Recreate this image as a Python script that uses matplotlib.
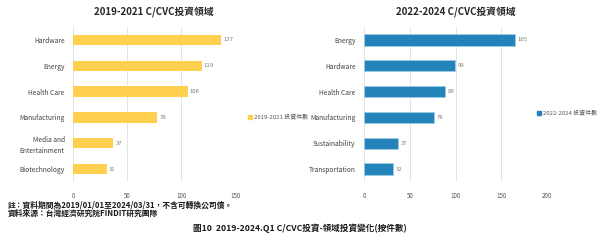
import matplotlib
matplotlib.use("Agg")
import matplotlib.pyplot as plt
from matplotlib.patches import Patch

plt.rcParams['font.family'] = ['Noto Sans CJK TC', 'DejaVu Sans']

left_title = "2019-2021 C/CVC投資領域"
left_cats = ["Hardware", "Energy", "Health Care", "Manufacturing", "Media and\nEntertainment", "Biotechnology"]
left_vals = [137, 119, 106, 78, 37, 31]
left_legend = "2019-2021 投資件數"
left_ticks = [0, 50, 100, 150]

right_title = "2022-2024 C/CVC投資領域"
right_cats = ["Energy", "Hardware", "Health Care", "Manufacturing", "Sustainability", "Transportation"]
right_vals = [165, 99, 89, 76, 37, 32]
right_legend = "2022-2024 投資件數"
right_ticks = [0, 50, 100, 150, 200]

note1 = "註：資料期間為2019/01/01至2024/03/31，不含可轉換公司債。"
note2 = "資料來源：台灣經濟研究院FINDIT研究團隊"
caption = "圖10  2019-2024.Q1 C/CVC投資-領域投資變化(按件數)"

yellow = "#FFD04F"
blue = "#2484B9"

fig = plt.figure(figsize=(6, 2.4), dpi=100)
fig.patch.set_facecolor("white")


def panel(rect, cats, vals, ticks, color, title, legend_label, legend_xy, edge):
    ax = fig.add_axes(rect)
    y = list(range(len(cats)))
    ax.barh(y, vals, height=0.4 if not edge else 0.44, color=color,
            edgecolor="#9CCBE6" if edge else color, linewidth=0.6 if edge else 0, zorder=3)
    ax.set_ylim(len(cats) - 0.5, -0.5)
    ax.set_xlim(ticks[0], ticks[-1])
    ax.set_xticks(ticks)
    ax.set_xticklabels([str(t) for t in ticks], fontsize=4.5, color="#595959")
    ax.set_yticks(y)
    ax.set_yticklabels(cats, fontsize=4.8, color="#404040", linespacing=1.5)
    ax.tick_params(length=0, pad=6)
    ax.tick_params(axis='x', pad=7)
    for s in ax.spines.values():
        s.set_visible(False)
    ax.grid(axis='x', color="#E3E3E3", linewidth=0.7, zorder=0)
    ax.set_axisbelow(True)
    for yi, v in zip(y, vals):
        ax.text(v + ticks[-1] * 0.015, yi, str(v), fontsize=4.3, color="#7F7F7F",
                va="center", ha="left")
    ax.set_title(title, fontsize=7.0, fontweight="bold", color="#262626", pad=8)
    fig.legend(handles=[Patch(color=color)], labels=[legend_label],
               loc="center left", bbox_to_anchor=legend_xy, frameon=False,
               fontsize=4.3, handlelength=0.6, handleheight=0.6, handletextpad=0.4,
               labelcolor="#595959")
    return ax


panel([0.1217, 0.2417, 0.27, 0.6458], left_cats, left_vals, left_ticks, yellow,
      left_title, left_legend, (0.405, 0.512), False)
panel([0.6067, 0.2417, 0.305, 0.6458], right_cats, right_vals, right_ticks, blue,
      right_title, right_legend, (0.886, 0.528), True)

fig.text(0.013, 0.145, note1, fontsize=5.6, fontweight="bold", color="#1a1a1a", va="center")
fig.text(0.013, 0.11, note2, fontsize=5.6, fontweight="bold", color="#1a1a1a", va="center")
fig.text(0.5, 0.048, caption, fontsize=6.2, fontweight="bold", color="#1a1a1a",
         ha="center", va="center")

fig.savefig("out.png", dpi=100, facecolor="white")
